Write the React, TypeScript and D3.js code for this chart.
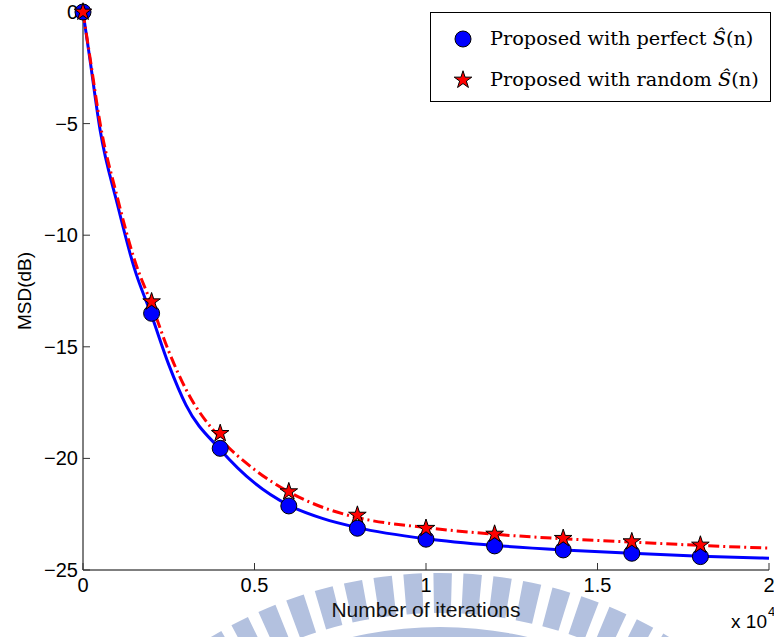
import React from "react";
import * as d3 from "d3";

const xTicks = [0, 0.5, 1, 1.5, 2];
const yTicks = [-25, -20, -15, -10, -5, 0];

const lineX = [0, 0.02, 0.05, 0.1, 0.15, 0.2, 0.25, 0.3, 0.4, 0.5, 0.6, 0.7, 0.8, 1.0, 1.2, 1.4, 1.6, 1.8, 2.0];
const perfectLine = [0, -2.1, -5.3, -8.6, -11.5, -13.6, -15.8, -17.6, -19.6, -21.1, -22.1, -22.7, -23.1, -23.6, -23.9, -24.1, -24.25, -24.38, -24.47];
const randomLine = [0, -2.0, -5.0, -8.3, -11.1, -13.1, -15.2, -16.9, -19.1, -20.5, -21.5, -22.2, -22.65, -23.1, -23.4, -23.6, -23.75, -23.9, -24.02];

const markerX = [0, 0.2, 0.4, 0.6, 0.8, 1.0, 1.2, 1.4, 1.6, 1.8];
const perfectMarkers = [0, -13.5, -19.55, -22.13, -23.13, -23.62, -23.92, -24.1, -24.25, -24.4];
const randomMarkers = [0, -12.98, -18.88, -21.49, -22.54, -23.13, -23.39, -23.58, -23.73, -23.88];

const legendLabels = ["Proposed with perfect ", "Proposed with random "];

const W = 774;
const H = 637;
const M = { left: 83, right: 769, top: 12, bottom: 570 };

export default function App() {
  const x = d3.scaleLinear().domain([0, 2]).range([M.left, M.right]);
  const y = d3.scaleLinear().domain([-25, 0]).range([M.bottom, M.top]);
  const fmt = d3.format("~g");

  const line = d3
    .line<[number, number]>()
    .x((d) => x(d[0]))
    .y((d) => y(d[1]))
    .curve(d3.curveMonotoneX);

  const perfectPath = line(lineX.map((v, i) => [v, perfectLine[i]]) as [number, number][]) || "";
  const randomPath = line(lineX.map((v, i) => [v, randomLine[i]]) as [number, number][]) || "";

  const star = d3.symbol().type(d3.symbolStar).size(96)() || "";

  // watermark (decorative logo stripes)
  const wmArc = d3.arc();
  const wmCx = 440;
  const wmCy = 1015;
  const stripes: string[] = [];
  const period = (3.9 * Math.PI) / 180;
  const sw = (2.4 * Math.PI) / 180;
  for (let k = -11; k <= 11; k++) {
    const a0 = k * period - sw / 2 + 0.006;
    stripes.push(
      wmArc({ innerRadius: 402, outerRadius: 442, startAngle: a0, endAngle: a0 + sw } as any) || ""
    );
  }
  const ring = wmArc({ innerRadius: 340, outerRadius: 388, startAngle: -0.75, endAngle: 0.75 } as any) || "";

  const sans = "'Liberation Sans', Arial, Helvetica, sans-serif";
  const serif = "'DejaVu Serif', serif";

  return (
    <svg
      width={W}
      height={H}
      style={{ position: "absolute", left: 0, top: 0, background: "#fff" }}
    >
      <rect x={0} y={0} width={W} height={H} fill="#fff" />
      <g transform={`translate(${wmCx},${wmCy})`} fill="#b3c1df">
        {stripes.map((d, i) => (
          <path key={i} d={d} />
        ))}
        <path d={ring} />
      </g>

      {/* axes */}
      <line x1={M.left} x2={M.left} y1={M.top} y2={M.bottom} stroke="#000" strokeWidth={1} />
      <line x1={M.left} x2={M.right} y1={M.bottom} y2={M.bottom} stroke="#000" strokeWidth={1} />
      {xTicks.map((t) => (
        <g key={"x" + t}>
          <line x1={x(t)} x2={x(t)} y1={M.bottom} y2={M.bottom - 7} stroke="#333" />
          <text
            x={x(t)}
            y={592}
            textAnchor="middle"
            fontFamily={sans}
            fontSize={20}
            fill="#000"
          >
            {fmt(t)}
          </text>
        </g>
      ))}
      {yTicks.map((t) => (
        <g key={"y" + t}>
          <line x1={M.left} x2={M.left + 7} y1={y(t)} y2={y(t)} stroke="#333" />
          <text
            x={78}
            y={y(t)}
            dy="0.35em"
            textAnchor="end"
            fontFamily={sans}
            fontSize={20}
            fill="#000"
          >
            {fmt(t)}
          </text>
        </g>
      ))}

      <text x={426} y={617} textAnchor="middle" fontFamily={sans} fontSize={21} fill="#111">
        Number of iterations
      </text>
      <text
        transform="translate(31,291) rotate(-90)"
        textAnchor="middle"
        fontFamily={sans}
        fontSize={19}
        fill="#000"
      >
        MSD(dB)
      </text>
      <text x={767} y={628} textAnchor="end" fontFamily={sans} fontSize={19} fill="#000">
        x 10
      </text>
      <text x={768} y={616} fontFamily={sans} fontSize={13} fill="#000">
        4
      </text>

      {/* lines */}
      <path d={perfectPath} fill="none" stroke="#0000ff" strokeWidth={3} />
      <path
        d={randomPath}
        fill="none"
        stroke="#ff0000"
        strokeWidth={3}
        strokeDasharray="11,4,2,4"
      />

      {/* markers */}
      {markerX.map((v, i) => (
        <circle
          key={"c" + i}
          cx={x(v)}
          cy={y(perfectMarkers[i])}
          r={8}
          fill="#0000ff"
          stroke="#000"
          strokeWidth={1}
        />
      ))}
      {markerX.map((v, i) => (
        <path
          key={"s" + i}
          d={star}
          transform={`translate(${x(v)},${y(randomMarkers[i])})`}
          fill="#ff0000"
          stroke="#000"
          strokeWidth={1}
        />
      ))}

      {/* legend */}
      <rect x={430.5} y={12.5} width={340} height={89} fill="#fff" stroke="#000" strokeWidth={1} />
      <circle cx={463} cy={39} r={8} fill="#0000ff" stroke="#000" strokeWidth={1} />
      <path d={star} transform="translate(463,80)" fill="#ff0000" stroke="#000" strokeWidth={1} />
      {legendLabels.map((lab, i) => (
        <text key={lab} x={490} y={45 + i * 41} fontFamily={serif} fontSize={19.3} fill="#000">
          {lab}
          <tspan fontStyle="italic">Ŝ</tspan>
          (n)
        </text>
      ))}
    </svg>
  );
}
